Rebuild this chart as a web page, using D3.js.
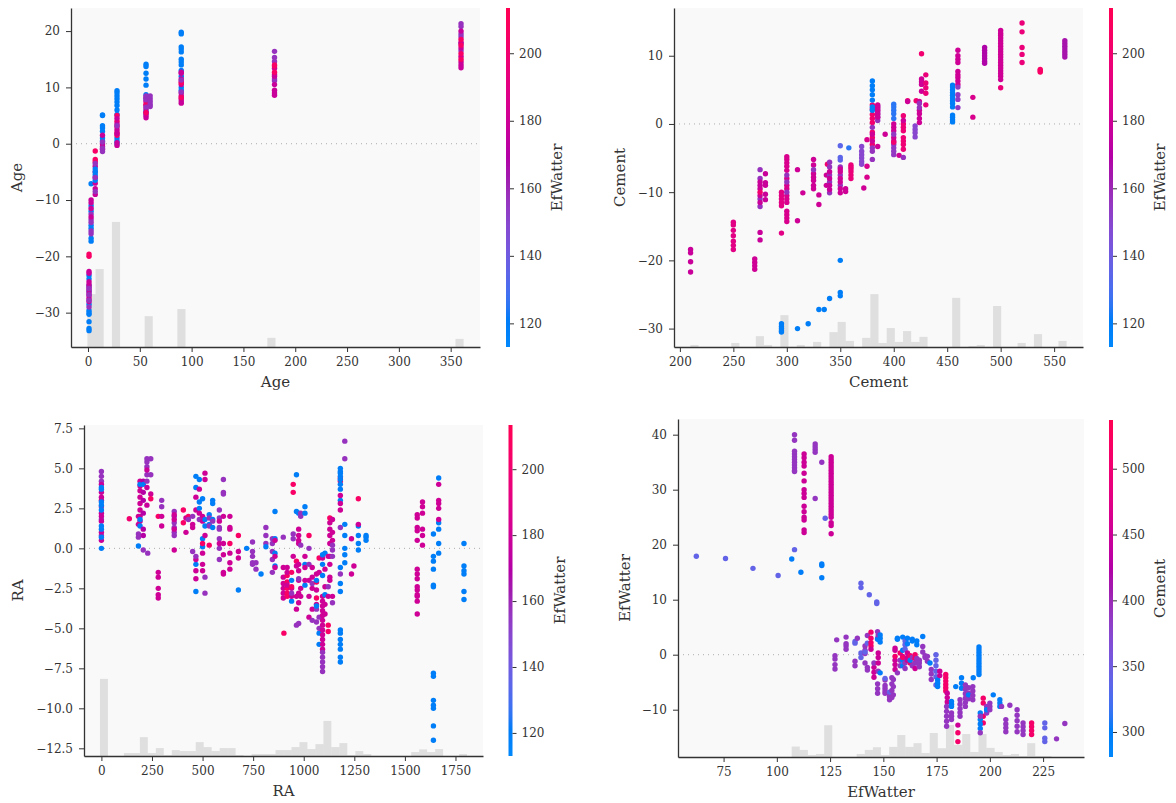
<!DOCTYPE html>
<html><head><meta charset="utf-8">
<script src="https://cdn.jsdelivr.net/npm/d3@7"></script>
<style>
body{margin:0;background:#fff;}
svg{display:block;}
</style>
</head><body>
<svg id="c" width="1176" height="803"></svg>
<script>
// ---------- DATA ----------
// point groups: [x value, colour-feature value, [SHAP values...]]
const agePts = [
 [1,120,[-33.2,-32.8,-31.6,-30.3,-30.0,-29.6,-28.5,-26.2,-25.2,-24.0,-23.4]],
 [1,178,[-28.0,-27.5,-27.0,-26.5,-26.0,-25.5,-25.0,-24.5,-23.0,-22.7]],
 [1,157,[-29.0,-27.8,-26.8,-25.7]],
 [1,205,[-19.6,-20.0]],
 [3,120,[-17.3,-16.8,-15.0,-14.5,-12.0,-11.0,-7.1]],
 [3,157,[-16.0,-15.5,-14.0,-13.5,-12.5]],
 [3,178,[-13.0,-11.5,-10.5,-10.0]],
 [7,205,[-1.3,-2.8,-3.2]],
 [7,178,[-4.0,-5.0,-6.0,-7.0,-8.0,-9.0]],
 [7,120,[-4.5,-5.0,-5.5,-6.5]],
 [7,157,[-3.5,-6.0,-8.5]],
 [14,120,[5.1,5.0,3.2,2.8,2.2,1.0,0.5]],
 [14,178,[0.0,-0.5,-1.0,1.5]],
 [14,157,[-1.4,-0.8,0.3]],
 [28,120,[9.4,9.0,8.5,8.0,7.4,6.8,6.0,5.2,1.0,0.5,0.0]],
 [28,205,[1.5,2.0,3.0,4.0,5.0]],
 [28,178,[2.5,3.5,4.5,1.8,0.2,-0.3]],
 [28,157,[3.2]],
 [56,120,[14.1,13.7,12.5,11.5,10.4,8.7,8.0,5.8,5.3]],
 [56,178,[4.6,5.0,5.6,6.2,6.8,7.5,8.2]],
 [56,205,[5.5,7.0]],
 [56,157,[6.5,7.8,8.5]],
 [60,157,[6.6,7.0,7.5,8.0,8.5]],
 [90,120,[19.8,19.5,17.2,16.8,16.3,15.0,14.5,14.0,13.0,12.0,10.0,9.5]],
 [90,178,[7.2,7.6,8.0,8.5,9.0,10.5,11.0,11.5,12.5,12.7]],
 [90,205,[8.2,10.8]],
 [90,157,[9.2,11.3]],
 [180,157,[16.4,15.3,14.6,11.2,11.5]],
 [180,178,[13.4,12.3,12.0,10.5,9.5,9.0,8.6]],
 [180,205,[14.0,13.8,12.7]],
 [360,157,[21.3,20.8,19.5,19.0,17.8,16.5]],
 [360,178,[20.0,18.0,17.0,15.5,14.5,14.0,13.5]],
 [360,205,[18.5,17.5,16.0,15.0]]
];
const cementPts = [
 [210,178,[-18.4,-18.9,-20.2,-21.7]],
 [250,190,[-14.4,-14.8,-15.6,-16.4,-17.2,-17.8,-18.4]],
 [270,180,[-19.8,-20.3,-20.8,-21.3]],
 [275,157,[-6.7,-8.0,-11.0,-12.1]],
 [275,178,[-8.5,-9.0,-9.5,-10.5,-11.5,-15.9,-17.0]],
 [275,200,[-10.0]],
 [280,178,[-7.3,-8.6,-9.0,-10.3,-11.1]],
 [295,190,[-10.0,-10.5,-11.0,-11.5,-12.0,-16.0]],
 [295,120,[-29.3,-29.7,-30.0,-30.3,-30.5]],
 [300,185,[-4.8,-5.2,-5.7,-6.2,-6.8,-8.0,-9.0,-9.5,-10.5,-11.0,-11.5,-12.8,-13.3,-13.8,-14.3]],
 [300,157,[-7.5,-8.5,-10.0]],
 [310,180,[-6.7,-14.2]],
 [310,120,[-30.0]],
 [315,180,[-10.1]],
 [320,120,[-29.3]],
 [325,180,[-5.2,-6.0,-7.3,-7.8,-8.3,-9.0,-9.5]],
 [325,157,[-6.7]],
 [330,180,[-10.4,-11.8]],
 [330,120,[-27.2]],
 [335,120,[-27.2]],
 [337,180,[-7.5,-9.0]],
 [338,200,[-5.9]],
 [340,157,[-5.6,-6.3,-7.5,-8.5,-10.1]],
 [340,178,[-7.0,-8.0,-9.0,-9.6]],
 [340,120,[-25.6]],
 [350,135,[-3.2,-4.9,-5.3]],
 [350,157,[-6.3,-7.5,-9.0]],
 [350,180,[-6.6,-7.0,-8.0,-8.5,-9.5,-10.1]],
 [350,120,[-20.0,-24.7,-25.2]],
 [355,180,[-9.5,-9.9]],
 [358,125,[-3.5]],
 [360,195,[-6.0,-6.3,-6.6,-7.0,-7.5,-8.0]],
 [370,150,[-3.3,-4.0,-4.5,-5.0,-5.5,-5.9]],
 [372,180,[-9.4]],
 [375,185,[-2.3,-6.2,-7.8]],
 [380,200,[2.8,2.2,1.4,0.8,0.2,-1.2,-2.0,-3.0]],
 [380,157,[-0.5,-3.5,-4.0,-5.2]],
 [380,180,[-1.5,-2.5]],
 [380,120,[6.3,5.6,5.0,4.3,3.5,2.5,2.0]],
 [385,157,[2.6,2.2,1.8,1.4,1.0,0.5]],
 [385,180,[2.8,2.4,2.0,1.5,1.0,-3.3]],
 [392,180,[-1.5]],
 [400,125,[2.9,2.5,2.0,1.5,0.8]],
 [400,180,[0.0,-0.5,-1.0,-2.0,-2.5]],
 [400,155,[-1.5,-3.0,-3.5,-4.0,-4.5]],
 [400,200,[-2.7]],
 [405,180,[-4.6]],
 [409,198,[1.2,0.0,-0.5,-1.0,-2.0,-2.5,-3.0,-3.7]],
 [409,180,[0.5]],
 [409,157,[-4.9]],
 [413,200,[3.4]],
 [413,180,[3.3]],
 [420,150,[-0.3,-0.8,-1.3,-1.9]],
 [421,200,[3.4]],
 [424,180,[3.3,2.0,1.5,0.8,0.2]],
 [424,157,[3.0,2.4]],
 [426,200,[10.3]],
 [426,180,[6.6,6.2,5.8,4.8]],
 [430,195,[7.2,6.0,5.3,4.5,2.8]],
 [455,120,[5.7,5.4,5.0,4.6,4.2,3.8,3.4,3.0,2.5,1.3,1.0,0.6,0.3]],
 [460,180,[10.8,10.0,9.5,9.0,7.7,7.2,6.8,6.3,5.8]],
 [460,155,[5.4,4.3,3.6,2.4]],
 [474,185,[3.9,1.0]],
 [485,168,[11.2,10.8,10.4,10.0,9.6,9.2,8.9]],
 [500,180,[13.7,13.3,13.0,12.6,12.2,11.8,11.4,11.0,10.6,10.2,9.8,9.4,9.0,8.6,8.2,7.8,7.4,7.0,6.5]],
 [500,195,[5.3]],
 [520,195,[14.8,13.5,11.2,10.2,9.0]],
 [537,205,[8.0,7.8,7.6]],
 [560,165,[12.2,11.8,11.4,11.0,10.6,10.2,9.8]]
];
const raPts = [
 [0,157,[4.8,4.5,4.2,2.6,1.8,0.8]],
 [0,178,[4.0,3.5,3.2,3.0,2.2,2.0,1.7,1.0,0.5]],
 [0,120,[3.8,3.7,2.9,2.7,2.4,1.4,1.2,0.7,0.0]],
 [138,200,[1.85]],
 [183,157,[0.7,0.9]],
 [183,120,[0.15]],
 [183,180,[1.5,2.0]],
 [191,180,[4.2,3.9,3.6,3.2,2.8,2.4,2.0,1.7]],
 [191,120,[4.0,1.8,1.4]],
 [207,170,[4.2,3.5,3.0,2.2,1.2,0.8]],
 [207,157,[-0.1]],
 [207,120,[4.0]],
 [225,157,[5.6,5.4,5.1,4.6,4.2]],
 [225,178,[4.9,3.8,2.7]],
 [229,157,[-0.3]],
 [244,157,[5.6,4.6]],
 [244,180,[3.4]],
 [244,205,[3.1]],
 [281,180,[-1.5,-1.8,-2.5,-2.9,-3.1]],
 [281,205,[2.0]],
 [298,157,[3.0,2.6]],
 [298,180,[2.0,1.4]],
 [360,157,[2.3,2.0,1.6,1.3,1.0,0.8]],
 [360,180,[2.1,1.8,1.2,-0.1]],
 [405,205,[2.4,1.6]],
 [418,180,[1.9,1.0]],
 [430,205,[2.0]],
 [430,157,[1.8]],
 [451,157,[2.0,-0.2]],
 [451,180,[1.5,1.3]],
 [467,120,[4.5,3.8,-1.0,-2.7]],
 [467,180,[3.2,2.4,-0.7,-1.4,-1.9]],
 [467,157,[-0.5]],
 [484,120,[4.3,2.9,2.5]],
 [484,180,[3.7,2.2]],
 [484,157,[1.8]],
 [500,120,[3.1,0.6,0.1]],
 [500,180,[2.0,1.7,-0.3,-1.0,-1.4]],
 [500,205,[0.3]],
 [512,180,[4.7,4.3,0.8]],
 [512,120,[1.8,1.4]],
 [512,157,[-1.8,-2.8]],
 [533,120,[2.1,1.5]],
 [533,157,[1.9,1.4]],
 [533,205,[0.2]],
 [550,120,[3.0,2.8,1.8,1.3]],
 [550,157,[1.7]],
 [583,157,[2.4,1.9,1.3,1.2,0.6,0.0,-0.7]],
 [583,180,[1.7,0.3]],
 [603,157,[4.3,3.5,3.4]],
 [603,180,[2.0,0.3,-0.4,-1.5,-1.6]],
 [635,180,[2.0,1.3,1.2,-0.3,-0.9,-1.3]],
 [635,205,[0.3]],
 [677,120,[-2.6]],
 [677,205,[0.8]],
 [677,180,[-0.2,-0.6]],
 [718,120,[0.0]],
 [747,157,[0.4,-0.2,-0.5,-0.9,-1.0]],
 [764,157,[-0.9,-1.3]],
 [789,120,[-1.6]],
 [813,157,[1.3,0.8,0.3]],
 [813,120,[0.1]],
 [845,157,[0.6,0.3,-0.2,-0.7,-1.5]],
 [858,120,[2.3,0.6,-0.3,-1.1]],
 [858,180,[0.5,-0.5,-1.2]],
 [899,157,[0.7]],
 [899,180,[-1.2,-1.8,-2.2,-2.5,-2.8,-3.1]],
 [902,205,[-5.3]],
 [918,205,[-1.7,-2.1,-2.5,-2.8,-3.0]],
 [918,180,[-1.5,-1.2,-2.3]],
 [940,120,[-2.0,-3.3]],
 [940,180,[-2.5,-3.0]],
 [940,205,[-1.5,-2.4]],
 [940,157,[-2.8]],
 [948,205,[4.0,3.5]],
 [948,157,[0.6,0.9]],
 [948,180,[-0.5]],
 [964,120,[4.6,2.3]],
 [964,205,[-0.8]],
 [964,180,[-1.1,-3.0,-3.8]],
 [964,157,[-4.8]],
 [975,180,[1.2,0.8,0.5,0.3,-1.0,-1.4,-2.0,-2.8,-3.4]],
 [975,157,[-1.9,-4.7]],
 [975,120,[2.2]],
 [985,157,[2.2,2.0,0.2]],
 [985,180,[-2.5,-3.0]],
 [1006,120,[2.6,2.2,-1.0,-2.3]],
 [1006,180,[-0.5,-1.2,-2.0]],
 [1026,205,[0.8]],
 [1026,157,[0.0,-1.0]],
 [1026,180,[-2.0,-3.0,-4.3]],
 [1042,180,[-1.2,-1.8,-2.5,-3.8]],
 [1042,157,[-2.2,-4.5]],
 [1063,205,[-2.1,-3.1]],
 [1063,180,[-1.6,-2.6,-3.5]],
 [1063,157,[-3.8,-4.6]],
 [1063,120,[-2.0,-3.6]],
 [1076,120,[-5.3,-6.0]],
 [1076,157,[-4.3,-5.0]],
 [1076,205,[-0.6]],
 [1076,180,[-1.5]],
 [1093,180,[-0.6,-3.0,-3.3,-3.6,-3.9,-4.2,-4.5,-4.8,-5.1,-5.4,-5.7,-6.0,-6.3]],
 [1093,157,[-6.5,-6.8,-7.1,-7.4,-7.7]],
 [1093,120,[-0.4,-1.0,-1.7]],
 [1105,120,[-0.3,-2.9]],
 [1105,180,[-1.3,-2.4,-3.5,-4.1]],
 [1121,205,[-4.8,-5.2]],
 [1121,180,[-0.5,-3.0]],
 [1121,157,[-2.4]],
 [1129,180,[1.6,1.2,0.8,0.3,-0.5,-1.0,-1.8,-2.0]],
 [1129,205,[1.9]],
 [1142,180,[1.8,1.0,0.5,-3.0]],
 [1142,157,[0.2,-0.1,-0.5,-3.4]],
 [1181,205,[4.4,4.2]],
 [1181,120,[5.0,4.8,4.7,4.5,4.3,4.0,3.7,3.0,-1.2,-2.2,-2.7,-5.1,-5.3,-5.7,-6.0,-6.3,-6.8,-7.1]],
 [1181,180,[3.3,2.8,2.4]],
 [1181,157,[1.3,-1.6]],
 [1203,120,[1.5,0.8,0.0,-0.4,-0.9]],
 [1203,157,[6.7,5.6]],
 [1236,180,[0.6,-1.6]],
 [1248,180,[-1.1]],
 [1270,120,[1.4,0.8,0.3,-0.1]],
 [1270,205,[3.1]],
 [1270,180,[1.5]],
 [1308,120,[0.8,0.7,0.5]],
 [1561,180,[2.1,1.9,1.3,1.1,0.5,-1.3,-1.6,-1.9,-2.4,-2.6,-2.9,-3.0,-3.3,-4.1]],
 [1587,180,[2.9,2.6,2.2,1.2,0.8,0.2]],
 [1641,120,[0.9,-0.5,-0.8,-1.3,-2.3,-2.4,-7.8,-8.0,-9.5,-9.8,-10.0,-11.1,-12.0]],
 [1667,120,[4.4,1.6,1.2,0.3,-0.3]],
 [1667,180,[4.0,3.0,2.8,2.5,1.8]],
 [1792,120,[0.3,-1.1,-1.4,-1.6,-2.7,-3.2]]
];
const efwPts = [
 [62.2,340,[17.9]],
 [75.9,340,[17.5]],
 [88.8,340,[15.7]],
 [100.6,340,[14.4]],
 [107.0,300,[17.4]],
 [108.3,340,[19.1]],
 [108.3,390,[40.0,39.0,37.0,36.5,36.0,35.5,35.0,34.5,34.0,33.5,33.3]],
 [111.3,300,[15.0]],
 [112.8,450,[36.5,35.8,35.0,34.3,33.0,31.6,30.0,29.3,28.6,27.0,26.0,25.0,24.5,22.7,22.2]],
 [118.0,390,[38.3,37.8,37.3,36.8,28.4]],
 [121.1,300,[16.5,16.2,14.0]],
 [121.1,390,[35.0]],
 [122.7,340,[24.8]],
 [125.5,450,[36.0,35.5,35.0,34.5,34.0,33.5,33.0,32.5,32.0,31.5,31.0,30.5,30.0,29.5,29.0,28.5,28.0,27.5,27.0,26.5,26.0,25.5,25.0,24.0,23.5,22.0]],
 [128.1,390,[2.7]],
 [127.3,390,[-0.2,-0.8,-1.8,-2.6]],
 [132.5,390,[3.2,2.0,1.6,1.0]],
 [136.7,340,[2.4,2.1]],
 [136.7,390,[-1.2,-2.0]],
 [137.8,390,[3.0]],
 [139.5,340,[13.0,12.2,0.3,-0.5]],
 [141.4,390,[1.6,0.8,0.2,-1.5]],
 [141.4,340,[0.5]],
 [142.5,390,[-2.3,-2.8,3.5]],
 [142.5,340,[2.1]],
 [143.4,340,[10.9]],
 [144.2,510,[4.1,3.0,2.2,1.6]],
 [144.2,450,[1.0]],
 [145.6,450,[-2.3,-3.2,-4.1]],
 [145.6,390,[-1.5]],
 [146.9,340,[9.6,9.3]],
 [147.3,390,[4.2,3.0,-5.3,-6.2,-7.0]],
 [147.3,300,[2.8]],
 [147.6,450,[0.3,-0.5,-1.5]],
 [147.6,390,[3.6,-3.0]],
 [148.5,300,[3.6,3.0,2.3,-3.3]],
 [150.8,390,[-4.6,-5.6,-6.1,-6.6,-7.0]],
 [150.8,340,[-4.3]],
 [152.9,390,[-7.0,-7.6,-8.2]],
 [152.9,340,[-6.8]],
 [154.0,390,[-4.2,-5.3,-6.5,-7.8]],
 [154.7,390,[-4.5,-5.8,-7.3]],
 [155.5,450,[-1.0,-1.8,-2.7,1.2,0.8]],
 [155.5,510,[-0.3]],
 [156.6,300,[3.0,2.8]],
 [156.6,390,[-3.3]],
 [157.9,510,[0.3]],
 [157.9,390,[-1.0,-2.0]],
 [159.1,300,[3.2,0.8,-0.5,-1.0,-2.0]],
 [159.1,450,[-0.3]],
 [159.1,510,[-0.5]],
 [160.2,340,[2.5,1.8,1.0]],
 [160.2,390,[-1.5,-2.5]],
 [161.3,450,[0.3,-0.5,-1.0]],
 [161.3,300,[3.0,2.0]],
 [162.6,510,[-0.2,-0.8,-1.5]],
 [162.6,300,[-1.0]],
 [163.6,300,[2.8,2.5]],
 [163.6,390,[-0.5,-2.0]],
 [164.9,510,[0.0,-0.7]],
 [164.9,450,[-2.5]],
 [164.9,390,[-1.5]],
 [165.7,300,[2.5,1.8]],
 [165.7,390,[-0.7,-1.5]],
 [166.9,390,[-1.0,-1.5,-2.2]],
 [168.5,300,[3.3]],
 [168.5,390,[1.5,0.5]],
 [169.6,390,[-0.2,-0.5]],
 [170.7,390,[-0.3,-1.2]],
 [171.9,300,[-1.5]],
 [172.5,390,[-2.7,-3.5,-4.5]],
 [174.7,340,[0.0,-1.0,-2.0,-3.0,-4.0,-5.5]],
 [175.5,300,[-4.6,-5.2,-5.8]],
 [176.5,450,[-3.0,-3.8]],
 [179.3,510,[-3.6,-4.2,-4.8,-5.4,-6.0,-6.6]],
 [180.0,450,[-7.0,-7.8,-8.6]],
 [179.7,390,[-9.4,-10.3,-11.2,-12.1,-13.0]],
 [182.0,300,[-8.5,-9.0,-9.4]],
 [182.0,390,[-10.6,-11.2,-11.8]],
 [184.0,300,[-5.8]],
 [185.0,510,[-14.2,-15.8]],
 [185.0,450,[-12.8]],
 [186.7,300,[-4.2,-5.2,-6.1]],
 [186.0,390,[-8.2,-9.0,-9.8,-10.5,-11.2]],
 [188.5,390,[-5.5,-6.3,-7.1,-7.9,-8.7,-9.4]],
 [190.0,390,[-6.0,-7.0,-8.0]],
 [190.0,300,[-7.3]],
 [192.2,300,[-4.2]],
 [192.0,390,[-5.8,-6.6,-7.4,-8.2]],
 [194.9,300,[1.4,0.9,0.4,-0.1,-0.6,-1.1,-1.6,-2.1,-2.6,-3.1,-3.6]],
 [196.9,510,[-7.9,-8.8,-11.2,-12.4]],
 [195.5,300,[-10.6,-11.8,-12.6,-13.4]],
 [195.5,390,[-11.2,-14.2]],
 [198.5,390,[-9.4,-10.0,-10.6]],
 [198.5,300,[-10.0]],
 [200.0,390,[-8.8,-9.4,-10.0]],
 [201.6,300,[-7.3]],
 [204.7,300,[-8.2,-8.8,-9.4]],
 [205.5,390,[-9.4]],
 [207.5,390,[-11.8,-12.6,-13.3,-14.0]],
 [209.4,390,[-9.2]],
 [212.8,390,[-10.0,-11.0,-12.0,-13.0,-14.0]],
 [215.6,390,[-12.4,-13.1,-13.8,-14.5]],
 [219.6,510,[-12.4,-13.1,-13.8,-14.5]],
 [225.8,340,[-12.4,-13.3,-15.2,-15.8]],
 [231.3,390,[-15.3]],
 [235.2,390,[-12.5]]
];
// histograms: [feature value inside the bar, count per 1000 samples]
const ageHist = [[3,156],[14,230],[28,369],[56,91],[90,112],[180,27],[360,24]];
const cementHist = [[214,6],[252,12],[275,32],[282,6],[298,94],[313,6],[329,15],[344,44],[351,74],[358,18],
 [374,27],[382,156],[390,12],[397,56],[405,15],[412,47],[420,15],[427,30],[458,145],[474,3],[481,6],[497,121],
 [520,12],[535,38],[558,18]];
const raHist = [[13,233],[131,9],[171,9],[210,57],[250,9],[289,24],[329,3],[368,18],[407,15],[447,15],[486,42],
 [526,27],[565,15],[605,24],[644,24],[683,3],[762,6],[802,6],[841,6],[881,18],[920,18],[960,27],[999,42],[1038,21],
 [1078,36],[1117,106],[1157,27],[1196,39],[1236,3],[1275,15],[1315,6],[1551,12],[1590,20],[1630,12],[1669,21],[1788,6]];
const efwHist = [[108.6,31],[112.5,21],[116.5,6],[120.4,9],[124.2,94],[139,9],[142.8,21],[146.6,29],[150.8,6],
 [154.5,30],[158.3,65],[162.2,30],[165.9,41],[169.7,12],[173.6,71],[177.5,26],[181.3,95],[185.2,36],[188.9,68],
 [192.7,15],[196.6,68],[200.5,27],[204.2,15],[207.7,6],[211.4,9],[215.3,3],[219.2,41],[223,3],[227,3]];
// tick labels
const ageXTicks = [0,50,100,150,200,250,300,350];
const ageYTicks = [-30,-20,-10,0,10,20];
const cementXTicks = [200,250,300,350,400,450,500,550];
const cementYTicks = [-30,-20,-10,0,10];
const raXTicks = [0,250,500,750,1000,1250,1500,1750];
const raYTicks = [-12.5,-10,-7.5,-5,-2.5,0,2.5,5,7.5];
const efwXTicks = [75,100,125,150,175,200,225];
const efwYTicks = [-10,0,10,20,30,40];
const efwCbTicks = [120,140,160,180,200];
const cementCbTicks = [300,350,400,450,500];
const efwRange = [113,213.4];
const cementRange = [281,537];

// ---------- DRAW ----------
const svg = d3.select("#c");
const FONT = "DejaVu Serif, serif";
const AX = "#333333";

function shapColor(t){
  t = Math.max(0, Math.min(1, t));
  const h = 266.93 + 113.39*t, c = 70 + 20*t, l = t < 0.5 ? 54 - 28*t : 40 + 28*(t-0.5);
  return d3.hcl(h, c, l).formatHex();
}
const defs = svg.append("defs");
const grad = defs.append("linearGradient").attr("id","shapgrad").attr("x1",0).attr("y1",1).attr("x2",0).attr("y2",0);
d3.range(0,1.0001,0.02).forEach(t => grad.append("stop").attr("offset", t).attr("stop-color", shapColor(t)));

const panels = [
 {pts:agePts, hist:ageHist, xT:ageXTicks, yT:ageYTicks, cT:efwCbTicks, cDom:efwRange, xL:"Age", yL:"Age", cL:"EfWatter",
  L:71, R:480, T:8, B:347, xDom:[-16.4,378.3], yDom:[-36.1,24.1], cbX:506, cbT:8, cbB:347, yLX:17, yFmt:d3.format("d")},
 {pts:cementPts, hist:cementHist, xT:cementXTicks, yT:cementYTicks, cT:efwCbTicks, cDom:efwRange, xL:"Cement", yL:"Cement", cL:"EfWatter",
  L:674, R:1083, T:8, B:347, xDom:[194.5,577], yDom:[-32.7,17.0], cbX:1109, cbT:8, cbB:347, yLX:620, yFmt:d3.format("d")},
 {pts:raPts, hist:raHist, xT:raXTicks, yT:raYTicks, cT:efwCbTicks, cDom:efwRange, xL:"RA", yL:"RA", cL:"EfWatter",
  L:84, R:483, T:425, B:756, xDom:[-86,1886], yDom:[-12.98,7.71], cbX:508.5, cbT:425, cbB:756, yLX:18, yFmt:d3.format(".1f")},
 {pts:efwPts, hist:efwHist, xT:efwXTicks, yT:efwYTicks, cT:cementCbTicks, cDom:cementRange, xL:"EfWatter", yL:"EfWatter", cL:"Cement",
  L:678, R:1084, T:419, B:757, xDom:[53.6,244.2], yDom:[-18.6,42.85], cbX:1109, cbT:420, cbB:757, yLX:625, yFmt:d3.format("d")}
];

function styleAxis(g){
  g.attr("font-family", FONT).attr("font-size", 12);
  g.selectAll("text").attr("fill", AX);
  g.selectAll(".tick line").attr("stroke", AX).attr("stroke-width", 1);
  g.select(".domain").attr("stroke", AX).attr("stroke-width", 1.3);
}

panels.forEach(p => {
  const g = svg.append("g");
  const x = d3.scaleLinear().domain(p.xDom).range([p.L, p.R]);
  const y = d3.scaleLinear().domain(p.yDom).range([p.B, p.T]);
  const cs = d3.scaleLinear().domain(p.cDom).range([0,1]).clamp(true);

  g.append("rect").attr("x",p.L).attr("y",p.T).attr("width",p.R-p.L).attr("height",p.B-p.T).attr("fill","#f9f9f9");

  // histogram: 50 bins over the axis range
  const bw = (p.xDom[1]-p.xDom[0])/50;
  const hy = d3.scaleLinear().domain([0,1000]).range([p.B, p.T]);
  g.selectAll("rect.hist").data(p.hist).join("rect").attr("class","hist")
    .attr("x", d => x(p.xDom[0] + Math.floor((d[0]-p.xDom[0])/bw)*bw))
    .attr("width", x(p.xDom[0]+bw) - x(p.xDom[0]))
    .attr("y", d => hy(d[1]))
    .attr("height", d => p.B - hy(d[1]))
    .attr("fill", "#000").attr("fill-opacity", 0.1);

  g.append("line").attr("x1",p.L).attr("x2",p.R).attr("y1",y(0)).attr("y2",y(0))
    .attr("stroke","#999").attr("stroke-width",0.8).attr("stroke-dasharray","1,4");

  const flat = p.pts.flatMap(([xv, cv, ys]) => ys.map(yv => [xv, yv, cv]));
  g.selectAll("circle").data(flat).join("circle")
    .attr("cx", d => x(d[0])).attr("cy", d => y(d[1])).attr("r", 2.7)
    .attr("fill", d => shapColor(cs(d[2])));

  const xa = g.append("g").attr("transform",`translate(0,${p.B})`)
    .call(d3.axisBottom(x).tickValues(p.xT).tickSize(5).tickPadding(5).tickSizeOuter(0).tickFormat(d3.format("d")));
  styleAxis(xa);
  const ya = g.append("g").attr("transform",`translate(${p.L},0)`)
    .call(d3.axisLeft(y).tickValues(p.yT).tickSize(5).tickPadding(6).tickSizeOuter(0).tickFormat(p.yFmt));
  styleAxis(ya);

  g.append("text").attr("x",(p.L+p.R)/2).attr("y",p.B+40).attr("text-anchor","middle")
    .attr("font-family",FONT).attr("font-size",15).attr("fill",AX).text(p.xL);
  g.append("text").attr("transform",`translate(${p.yLX},${(p.T+p.B)/2}) rotate(-90)`).attr("text-anchor","middle")
    .attr("dy","0.35em").attr("font-family",FONT).attr("font-size",15).attr("fill",AX).text(p.yL);

  // colour bar
  g.append("rect").attr("x",p.cbX).attr("y",p.cbT).attr("width",4).attr("height",p.cbB-p.cbT).attr("fill","url(#shapgrad)");
  const cy = d3.scaleLinear().domain(p.cDom).range([p.cbB, p.cbT]);
  const ca = g.append("g").attr("transform",`translate(${p.cbX+4},0)`)
    .call(d3.axisRight(cy).tickValues(p.cT).tickSize(4).tickPadding(5).tickSizeOuter(0).tickFormat(d3.format("d")));
  styleAxis(ca);
  ca.select(".domain").remove();
  g.append("text").attr("transform",`translate(${p.cbX+51},${(p.cbT+p.cbB)/2}) rotate(-90)`).attr("text-anchor","middle")
    .attr("dy","0.35em").attr("font-family",FONT).attr("font-size",15).attr("fill",AX).text(p.cL);
});
</script>
</body></html>
